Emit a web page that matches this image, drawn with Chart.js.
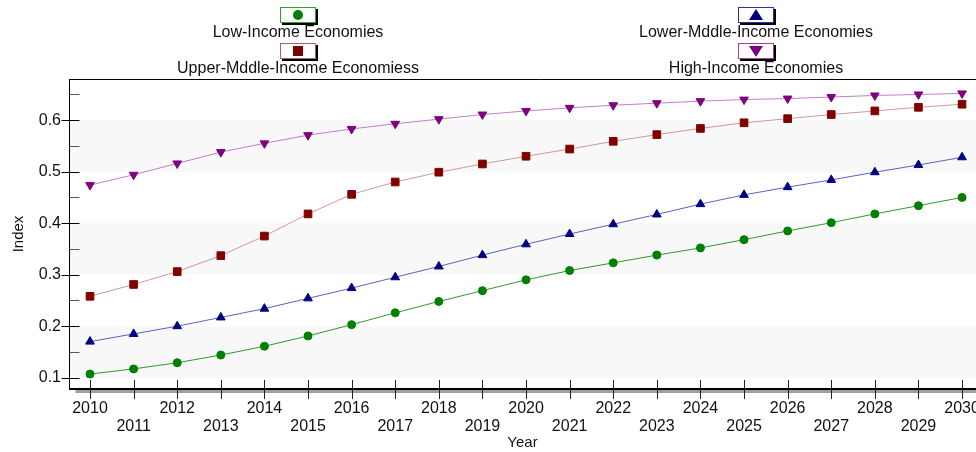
<!DOCTYPE html>
<html>
<head>
<meta charset="utf-8">
<script src="https://cdn.jsdelivr.net/npm/chart.js@4/dist/chart.umd.min.js"></script>
<style>
  html, body { margin: 0; padding: 0; background: #fff; overflow: hidden; }
  #wrap { width: 976px; height: 452px; overflow: hidden; }
</style>
</head>
<body>
<div id="wrap"><canvas id="chart" width="1010" height="452"></canvas></div>
<script>
const years = [2010, 2011, 2012, 2013, 2014, 2015, 2016, 2017, 2018, 2019, 2020,
  2021, 2022, 2023, 2024, 2025, 2026, 2027, 2028, 2029, 2030];

const lowIncome = [0.107, 0.117, 0.129, 0.144, 0.161, 0.181, 0.203, 0.226, 0.248, 0.269, 0.290,
  0.308, 0.323, 0.338, 0.352, 0.368, 0.385, 0.401, 0.418, 0.434, 0.450];
const lowerMiddleIncome = [0.170, 0.185, 0.200, 0.217, 0.234, 0.254, 0.274, 0.295, 0.316, 0.338, 0.359,
  0.379, 0.398, 0.417, 0.437, 0.455, 0.470, 0.484, 0.499, 0.513, 0.528];
const upperMiddleIncome = [0.258, 0.281, 0.306, 0.337, 0.375, 0.418, 0.456, 0.480, 0.499, 0.515, 0.530,
  0.544, 0.559, 0.572, 0.584, 0.595, 0.603, 0.611, 0.618, 0.625, 0.631];
const highIncome = [0.474, 0.494, 0.516, 0.538, 0.555, 0.571, 0.583, 0.593, 0.602, 0.611, 0.618,
  0.624, 0.629, 0.633, 0.637, 0.640, 0.642, 0.645, 0.648, 0.650, 0.652];

const seriesNames = ['Low-Income Economies', 'Lower-Mddle-Income Economies',
  'Upper-Mddle-Income Economiess', 'High-Income Economies'];

const yTickValues = [0.1, 0.15, 0.2, 0.25, 0.3, 0.35, 0.4, 0.45, 0.5, 0.55, 0.6, 0.65];
const yMajorTicks = [0.1, 0.2, 0.3, 0.4, 0.5, 0.6];
const yBands = [[0.1, 0.2], [0.3, 0.4], [0.5, 0.6]];

const FONT = 'Liberation Sans, Arial, sans-serif';

const toPoints = (vals) => vals.map((v, i) => ({ x: years[i], y: v }));

function makeSeries(label, vals, marker, line, style, rotation, radius) {
  return {
    label,
    data: toPoints(vals),
    borderColor: line,
    borderWidth: 1,
    backgroundColor: marker,
    pointBackgroundColor: marker,
    pointBorderColor: marker,
    pointBorderWidth: 1,
    pointStyle: style,
    pointRotation: rotation,
    pointRadius: radius,
    tension: 0,
  };
}

const isMajor = (v) => yMajorTicks.some((m) => Math.abs(m - v) < 1e-6);

// light stripes behind the lines
const bandsPlugin = {
  id: 'bands',
  beforeDatasetsDraw(chart) {
    const { ctx, chartArea } = chart;
    const y = chart.scales.y;
    ctx.save();
    ctx.fillStyle = '#f8f8f8';
    yBands.forEach(([lo, hi]) => {
      const top = y.getPixelForValue(hi);
      const bot = y.getPixelForValue(lo);
      ctx.fillRect(chartArea.left + 1, top, chartArea.right - chartArea.left, bot - top);
    });
    ctx.restore();
  },
};

// frame, shadowed bottom axis and crossing tick marks
const framePlugin = {
  id: 'frame',
  afterDraw(chart) {
    const { ctx, chartArea } = chart;
    const x = chart.scales.x;
    const y = chart.scales.y;
    const L = chartArea.left + 0.5;
    const B = chartArea.bottom;
    ctx.save();
    // shadow under x axis
    ctx.fillStyle = '#a0a0a0';
    ctx.fillRect(L + 6, B + 1, chartArea.right - L, 3);
    ctx.strokeStyle = '#000';
    ctx.lineWidth = 1;
    ctx.beginPath();
    ctx.moveTo(L, chartArea.top + 0.5);
    ctx.lineTo(chartArea.right + 40, chartArea.top + 0.5);
    ctx.moveTo(L, chartArea.top);
    ctx.lineTo(L, B + 1);
    ctx.stroke();
    ctx.lineWidth = 2;
    ctx.beginPath();
    ctx.moveTo(L - 0.5, B);
    ctx.lineTo(chartArea.right + 40, B);
    ctx.stroke();

    ctx.lineWidth = 1;
    ctx.strokeStyle = '#222';
    ctx.beginPath();
    x.ticks.forEach((t) => {
      const px = Math.round(x.getPixelForValue(t.value)) + 0.5;
      ctx.moveTo(px, B - 9);
      ctx.lineTo(px, B + 10);
    });
    ctx.stroke();

    y.ticks.forEach((t) => {
      const py = Math.round(y.getPixelForValue(t.value)) + 0.5;
      ctx.beginPath();
      if (isMajor(t.value)) {
        ctx.strokeStyle = '#000';
        ctx.moveTo(L - 8, py);
      } else {
        ctx.strokeStyle = '#555';
        ctx.moveTo(L, py);
      }
      ctx.lineTo(L + 10, py);
      ctx.stroke();
    });
    ctx.restore();
  },
};

function drawMarker(ctx, style, cx, cy, color) {
  ctx.fillStyle = color;
  ctx.beginPath();
  if (style === 'circle') {
    ctx.arc(cx, cy, 5, 0, Math.PI * 2);
  } else if (style === 'rect') {
    ctx.rect(cx - 5, cy - 5, 10, 10);
  } else if (style === 'up') {
    ctx.moveTo(cx, cy - 6);
    ctx.lineTo(cx + 7, cy + 5);
    ctx.lineTo(cx - 7, cy + 5);
  } else {
    ctx.moveTo(cx, cy + 6);
    ctx.lineTo(cx + 7, cy - 5);
    ctx.lineTo(cx - 7, cy - 5);
  }
  ctx.closePath();
  ctx.fill();
}

const legendCols = [298, 756];
const legendStyles = ['circle', 'up', 'rect', 'down'];
const legendBorders = ['#30a030', '#3030a0', '#b06060', '#a040a0'];

const legendPlugin = {
  id: 'boxLegend',
  afterDraw(chart) {
    const { ctx } = chart;
    ctx.save();
    chart.data.datasets.forEach((ds, i) => {
      const cx = legendCols[i % 2];
      const row = Math.floor(i / 2);
      const boxTop = 7 + row * 36;
      // box shadow
      ctx.fillStyle = '#000';
      ctx.fillRect(cx - 16, boxTop + 2, 36, 16);
      ctx.fillStyle = '#fff';
      ctx.fillRect(cx - 18, boxTop, 36, 16);
      ctx.strokeStyle = legendBorders[i];
      ctx.lineWidth = 1;
      ctx.strokeRect(cx - 17.5, boxTop + 0.5, 35, 15);
      drawMarker(ctx, legendStyles[i], cx, boxTop + 8, ds.pointBackgroundColor);
      ctx.fillStyle = '#111';
      ctx.font = '16px ' + FONT;
      ctx.textAlign = 'center';
      ctx.textBaseline = 'middle';
      ctx.fillText(ds.label, cx, boxTop + 26);
    });
    ctx.restore();
  },
};

new Chart(document.getElementById('chart'), {
  type: 'line',
  data: {
    datasets: [
      makeSeries(seriesNames[0], lowIncome, '#008000', '#2e9a2e', 'circle', 0, 4),
      makeSeries(seriesNames[1], lowerMiddleIncome, '#000080', '#6060c0', 'triangle', 0, 5),
      makeSeries(seriesNames[2], upperMiddleIncome, '#800000', '#d09898', 'rect', 0, 5.4),
      makeSeries(seriesNames[3], highIncome, '#800080', '#c080c8', 'triangle', 180, 5),
    ],
  },
  options: {
    responsive: false,
    animation: false,
    events: [],
    layout: { padding: { top: 79, right: 34, left: 0, bottom: 0 } },
    plugins: {
      legend: { display: false },
      tooltip: { enabled: false },
    },
    scales: {
      x: {
        type: 'linear',
        min: 2009.518,
        max: 2030.32,
        afterBuildTicks: (s) => { s.ticks = years.map((v) => ({ value: v })); },
        afterFit: (s) => { s.height = 63; },
        grid: { display: false, drawTicks: false },
        border: { display: false },
        ticks: {
          autoSkip: false,
          maxRotation: 0,
          padding: 11,
          color: '#111',
          font: { family: FONT, size: 16, lineHeight: 1.1 },
          callback: (v) => (v % 2 === 0 ? String(v) : ['', String(v)]),
        },
        title: {
          display: true,
          text: 'Year',
          color: '#111',
          padding: { top: 0, bottom: 0 },
          font: { family: FONT, size: 15 },
        },
      },
      y: {
        min: 0.078,
        max: 0.68,
        afterBuildTicks: (s) => { s.ticks = yTickValues.map((v) => ({ value: v })); },
        afterFit: (s) => { s.width = 69; },
        grid: { display: false, drawTicks: false },
        border: { display: false },
        ticks: {
          padding: 8,
          color: '#111',
          font: { family: FONT, size: 16 },
          callback: (v) => (isMajor(v) ? v.toFixed(1) : ''),
        },
        title: {
          display: true,
          text: 'Index',
          color: '#111',
          padding: { top: 10, bottom: 0 },
          font: { family: FONT, size: 15 },
        },
      },
    },
  },
  plugins: [bandsPlugin, framePlugin, legendPlugin],
});
</script>
</body>
</html>
